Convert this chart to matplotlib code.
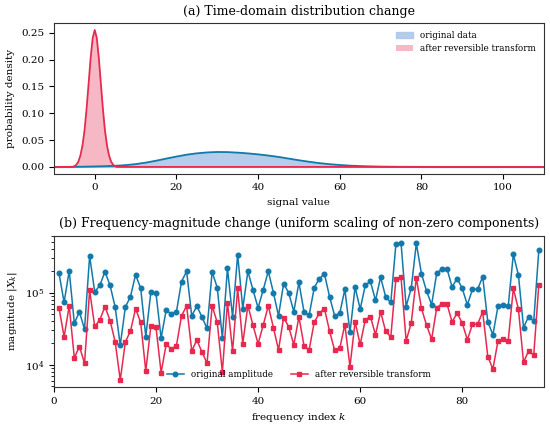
import numpy as np
import matplotlib
matplotlib.use("Agg")
import matplotlib.pyplot as plt

# (a) density curves
sig_blue = [-10, -5, -2.5, 0, 2.5, 5, 7.5, 10, 12.5, 15, 17.5, 20, 22.5, 25, 27.5, 30,
            32.5, 35, 37.5, 40, 42.5, 45, 47.5, 50, 52.5, 55, 57.5, 60, 62.5, 65,
            67.5, 70, 75, 80, 90, 110]
dens_blue = [0, 0.0002, 0.0005, 0.0009, 0.0014, 0.0021, 0.0033, 0.0052, 0.0080, 0.0115,
             0.0155, 0.0193, 0.0228, 0.0253, 0.0270, 0.0278, 0.0276, 0.0266, 0.0252,
             0.0234, 0.0212, 0.0186, 0.0155, 0.0124, 0.0096, 0.0071, 0.0051, 0.0036,
             0.0024, 0.0016, 0.0010, 0.0006, 0.0002, 0.0001, 0, 0]

sig_red = [-10, -5.5, -5, -4.5, -4, -3.5, -3, -2.5, -2, -1.5, -1, -0.5, 0,
           0.5, 1, 1.5, 2, 2.5, 3, 3.5, 4, 4.5, 5, 5.5, 110]
dens_red = [0, 0, 0.0012, 0.0040, 0.0100, 0.0215, 0.040, 0.068, 0.108, 0.155, 0.203, 0.240,
            0.255, 0.240, 0.203, 0.155, 0.108, 0.068, 0.040, 0.0215, 0.0100, 0.0040,
            0.0012, 0, 0]

# (b) magnitudes of the non-zero components, k = 1..95
k = list(range(1, 96))
amp_orig = [1.85e5, 7.3e4, 2.01e5, 3.77e4, 5.4e4, 3.11e4, 3.21e5, 1.02e5, 1.26e5, 1.95e5,
            1.26e5, 6.3e4, 1.87e4, 6.3e4, 8.8e4, 1.77e5, 1.15e5, 2.46e4, 1.02e5, 9.8e4,
            2.34e4, 5.75e4, 5.0e4, 5.4e4, 1.42e5, 1.97e5, 4.76e4, 6.5e4, 4.61e4, 3.18e4,
            1.93e5, 1.17e5, 2.36e4, 2.17e5, 4.61e4, 3.35e5, 6.0e4, 1.97e5, 1.09e5, 6.14e4,
            1.09e5, 1.97e5, 1.0e5, 4.76e4, 1.33e5, 9.9e4, 5.46e4, 1.38e5, 5.4e4, 4.86e4,
            1.17e5, 1.56e5, 1.81e5, 8.8e4, 4.76e4, 5.18e4, 1.11e5, 2.8e4, 1.19e5, 5.9e4,
            1.26e5, 1.43e5, 7.8e4, 1.63e5, 8.7e4, 7.3e4, 4.71e5, 4.91e5, 6.4e4, 1.15e5,
            4.81e5, 1.83e5, 1.05e5, 6.8e4, 1.87e5, 2.1e5, 2.15e5, 1.2e5, 1.56e5, 1.14e5,
            6.75e4, 1.11e5, 1.11e5, 1.66e5, 3.93e4, 2.6e4, 6.5e4, 6.8e4, 6.5e4, 3.39e5,
            1.75e5, 3.28e4, 4.66e4, 4.02e4, 3.89e5]
amp_trans = [6.14e4, 2.44e4, 6.54e4, 1.25e4, 1.79e4, 1.05e4, 1.07e5, 3.39e4, 4.19e4, 6.4e4,
             4.1e4, 2.08e4, 6.14e3, 2.08e4, 2.92e4, 6.0e4, 3.85e4, 8.2e3, 3.46e4, 3.32e4,
             7.8e3, 1.93e4, 1.65e4, 1.83e4, 4.76e4, 6.54e4, 1.56e4, 2.19e4, 1.51e4, 1.05e4,
             6.54e4, 3.85e4, 8.0e3, 7.28e4, 1.55e4, 1.14e5, 1.97e4, 6.6e4, 3.53e4, 1.95e4,
             3.53e4, 6.54e4, 3.28e4, 1.6e4, 4.51e4, 3.35e4, 1.89e4, 4.61e4, 1.83e4, 1.61e4,
             3.89e4, 5.18e4, 6.0e4, 2.92e4, 1.58e4, 1.7e4, 3.61e4, 9.4e3, 3.93e4, 1.91e4,
             4.19e4, 4.66e4, 2.6e4, 5.4e4, 2.89e4, 2.44e4, 1.56e5, 1.63e5, 2.15e4, 3.77e4,
             1.6e5, 6.07e4, 3.53e4, 2.26e4, 6.2e4, 6.97e4, 6.97e4, 3.93e4, 5.18e4, 3.77e4,
             2.22e4, 3.65e4, 3.65e4, 5.4e4, 1.3e4, 8.7e3, 2.15e4, 2.26e4, 2.15e4, 1.14e5,
             5.9e4, 1.08e4, 1.56e4, 1.36e4, 1.29e5]

BLUE = "#1279ab"
RED = "#e8294f"

plt.rcParams["font.family"] = "DejaVu Serif"
plt.rcParams["mathtext.fontset"] = "dejavuserif"
plt.rcParams["font.size"] = 7.5

fig = plt.figure(figsize=(5.5, 4.28), dpi=100)
ax1 = fig.add_axes([0.098, 0.594, 0.891, 0.352])
ax2 = fig.add_axes([0.098, 0.096, 0.891, 0.353])

ax1.fill_between(sig_blue, dens_blue, color="#aec7e8", alpha=0.9, label="original data")
ax1.plot(sig_blue, dens_blue, color=BLUE, lw=1.3)
ax1.fill_between(sig_red, dens_red, color=RED, alpha=0.33, lw=0, label="after reversible transform")
ax1.plot(sig_red, dens_red, color=RED, lw=1.3)
ax1.set_xlim(-10, 110)
ax1.set_title("(a) Time-domain distribution change")
ax1.set_xlabel("signal value")
ax1.set_ylabel("probability density")
ax1.legend(loc="upper right", frameon=False, fontsize=6.3)

ax2.plot(k, amp_orig, color=BLUE, marker="o", ms=3.3, lw=1.1, label="original amplitude")
ax2.plot(k, amp_trans, color=RED, marker="s", ms=3.3, lw=1.1, label="after reversible transform")
ax2.set_yscale("log")
ax2.set_xlim(0, 96)
ax2.set_title("(b) Frequency-magnitude change (uniform scaling of non-zero components)")
ax2.set_xlabel("frequency index $k$")
ax2.set_ylabel("magnitude $|X_k|$")
ax2.legend(loc="lower center", ncol=2, frameon=False, fontsize=6.3)

for ax in (ax1, ax2):
    for s in ax.spines.values():
        s.set_color("#333333")

fig.savefig("out.png", dpi=100)
